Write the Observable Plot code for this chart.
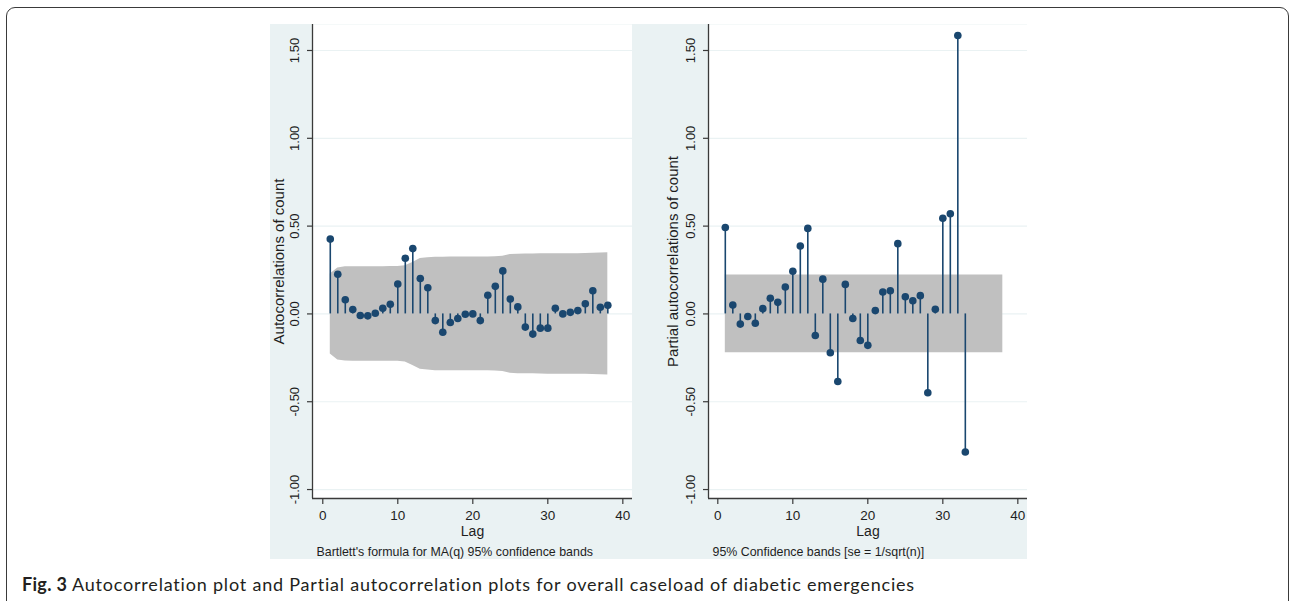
<!DOCTYPE html>
<html>
<head>
<meta charset="utf-8">
<script src="https://cdn.jsdelivr.net/npm/d3@7"></script>
<script src="https://cdn.jsdelivr.net/npm/@observablehq/plot@0.6"></script>
<style>
  html, body { margin: 0; padding: 0; background: #fff; }
  #page { position: relative; width: 1290px; height: 601px; overflow: hidden; background: #fff; }
  #frameBox { position: absolute; left: 6px; top: 7px; width: 1283px; height: 700px;
    border: 1.4px solid #3a3a3a; border-radius: 9px; box-sizing: border-box; }
  .panel { position: absolute; top: 24px; }
  #left { left: 270px; }
  #right { left: 632px; }
  #caption { position: absolute; left: 22px; top: 573px; font-family: Lato, "Open Sans", sans-serif;
    font-size: 18px; letter-spacing: 0.8px; color: #231f20; white-space: nowrap; }
  #caption b { font-weight: 700; letter-spacing: 0.3px; }
</style>
</head>
<body>
<div id="page">
  <div id="frameBox"></div>
  <div id="left" class="panel"></div>
  <div id="right" class="panel"></div>
  <div id="caption"><b>Fig. 3</b> Autocorrelation plot and Partial autocorrelation plots for overall caseload of diabetic emergencies</div>
</div>
<script>
// ---- data ----
const acfLags = d3.range(1, 39);
const acfValues = [0.426, 0.226, 0.081, 0.025, -0.009, -0.011, 0.004, 0.032, 0.055, 0.170,
  0.317, 0.372, 0.202, 0.149, -0.038, -0.104, -0.049, -0.026, -0.002, 0.000,
  -0.038, 0.106, 0.157, 0.245, 0.085, 0.040, -0.075, -0.115, -0.081, -0.081,
  0.032, 0.000, 0.009, 0.019, 0.058, 0.132, 0.038, 0.049];
const acfBand = [0.228, 0.262, 0.268, 0.269, 0.269, 0.269, 0.269, 0.269, 0.270, 0.270,
  0.274, 0.293, 0.315, 0.320, 0.323, 0.323, 0.324, 0.324, 0.324, 0.324,
  0.324, 0.324, 0.325, 0.328, 0.338, 0.340, 0.341, 0.341, 0.342, 0.343,
  0.343, 0.343, 0.343, 0.343, 0.344, 0.345, 0.347, 0.348];

const pacfLags = d3.range(1, 34);
const pacfValues = [0.492, 0.051, -0.058, -0.015, -0.053, 0.030, 0.089, 0.066, 0.153, 0.243,
  0.387, 0.487, -0.123, 0.198, -0.221, -0.385, 0.168, -0.026, -0.151, -0.179,
  0.019, 0.125, 0.132, 0.400, 0.098, 0.075, 0.104, -0.449, 0.026, 0.545,
  0.570, 1.585, -0.786];
const pacfBandLags = d3.range(1, 39);
const pacfBandHalf = 0.221;

const xTicks = [0, 10, 20, 30, 40];
const yTicks = [-1.0, -0.5, 0.0, 0.5, 1.0, 1.5];

const titles = {
  acfY: "Autocorrelations of count",
  pacfY: "Partial autocorrelations of count",
  xLabel: "Lag",
  acfNote: "Bartlett's formula for MA(q) 95% confidence bands",
  pacfNote: "95% Confidence bands [se = 1/sqrt(n)]"
};

// ---- tables ----
const acfTable = acfLags.map((lag, i) => ({lag, value: acfValues[i], lo: -acfBand[i], hi: acfBand[i]}));
const pacfTable = pacfLags.map((lag, i) => ({lag, value: pacfValues[i]}));
const pacfBandTable = pacfBandLags.map(lag => ({lag, lo: -pacfBandHalf, hi: pacfBandHalf}));

const navy = "#1a476f";
const bg = "#eaf2f3";
const axisColor = "#3a3a3a";
const font = "'Liberation Sans', Arial, Helvetica, sans-serif";

function panel({width, marginLeft, xDomain, bandData, data, yTitle, titleDx, note}) {
  const yDomain = [-1.051, 1.648];
  return Plot.plot({
    width, height: 535,
    marginLeft, marginRight: 0, marginTop: 0, marginBottom: 61,
    x: {domain: xDomain},
    y: {domain: yDomain},
    style: {background: bg, fontFamily: font, color: "#1e1e1e", overflow: "visible"},
    marks: [
      Plot.frame({fill: "white", stroke: null}),
      Plot.ruleY(yTicks, {stroke: bg, strokeWidth: 1.2}),
      Plot.areaY(bandData, {x: "lag", y1: "lo", y2: "hi", fill: "#c0c0c0"}),
      Plot.ruleX(data, {x: "lag", y1: 0, y2: "value", stroke: navy, strokeWidth: 1.6}),
      Plot.dot(data, {x: "lag", y: "value", r: 3.8, fill: navy}),
      Plot.ruleX([xDomain[0]], {stroke: axisColor, strokeWidth: 1.3}),
      Plot.ruleY([yDomain[0]], {stroke: axisColor, strokeWidth: 1.3}),
      Plot.axisY({ticks: yTicks, tickSize: 5, tickFormat: () => "", label: null, stroke: axisColor, strokeWidth: 1.2}),
      Plot.text(yTicks, {y: d => d, text: d => d.toFixed(2), frameAnchor: "left", rotate: -90,
        dx: -17.5, textAnchor: "middle", lineAnchor: "middle", fontSize: 13}),
      Plot.axisX({ticks: xTicks, tickSize: 6, tickPadding: 6, tickFormat: d => String(d), label: null,
        fontSize: 13.5, stroke: axisColor, strokeWidth: 1.2}),
      Plot.text([yTitle], {frameAnchor: "left", rotate: -90, dx: titleDx, textAnchor: "middle",
        lineAnchor: "middle", fontSize: 15}),
      Plot.text([titles.xLabel], {frameAnchor: "bottom", dy: 37.5, lineAnchor: "bottom", fontSize: 14}),
      Plot.text([note], {frameAnchor: "bottom-left", dx: 4, dy: 57, textAnchor: "start",
        lineAnchor: "bottom", fontSize: 12.4})
    ]
  });
}

document.getElementById("left").appendChild(panel({
  width: 362, marginLeft: 42, xDomain: [-1.37, 41.29],
  bandData: acfTable, data: acfTable, yTitle: titles.acfY, titleDx: -33, note: titles.acfNote
}));
document.getElementById("right").appendChild(panel({
  width: 395, marginLeft: 76, xDomain: [-1.24, 41.29],
  bandData: pacfBandTable, data: pacfTable, yTitle: titles.pacfY, titleDx: -35, note: titles.pacfNote
}));
</script>
</body>
</html>
